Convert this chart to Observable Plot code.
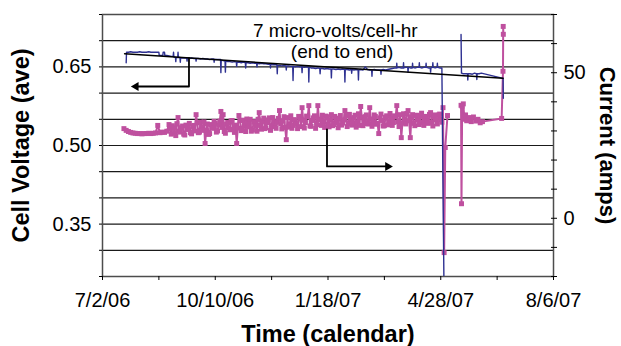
<!DOCTYPE html>
<html><head><meta charset="utf-8">
<script src="https://cdn.jsdelivr.net/npm/d3@7"></script>
<script src="https://cdn.jsdelivr.net/npm/@observablehq/plot@0.6"></script>
<style>body{margin:0;background:#fff} #chart svg{display:block}</style>
</head><body><div id="chart"></div>
<script>
// ---- data (days counted from 7/2/06) ----
const startDate = "2006-07-02";
const endDate = "2007-08-06";
const majorTickDates = ["2006-07-02","2006-10-10","2007-01-18","2007-04-28","2007-08-06"];
const minorTickDates = ["2006-08-21","2006-11-29","2007-03-09","2007-06-17"];
const voltTicks = [0.25,0.30,0.35,0.40,0.45,0.50,0.55,0.60,0.65,0.70,0.75];
const voltLabels = [0.35,0.50,0.65];
const ampTicks = [-20,-10,0,10,20,30,40,50,60,70];
const ampLabels = [0,50];

// cell voltage samples: [day, volts]
const voltSamples = [
 [21,0.658],[21.3,0.678],[23,0.678],[25,0.679],[27,0.678],[29,0.678],[31,0.678],[33,0.679],[35,0.678],[37,0.678],
 [39,0.678],[41,0.679],[43,0.678],[45,0.678],[47,0.678],[49,0.678],[50,0.678],[50.3,0.672],[52,0.672],[53.5,0.672],
 [53.8,0.678],[55,0.678],[55.3,0.672],[57,0.672],[59,0.671],[61,0.670],[62.7,0.670],[63,0.678],[63.3,0.669],
 [64.7,0.668],[65,0.660],[65.3,0.668],[66.7,0.668],[67,0.678],[67.3,0.668],[68.7,0.668],[69,0.659],[69.3,0.667],
 [71,0.667],[73,0.667],[74.7,0.667],[75,0.661],[75.3,0.667],[77,0.666],[79,0.667],[81,0.666],
 [82.7,0.666],[83,0.661],[83.3,0.666],[85,0.666],[87,0.665],[89,0.666],[91,0.665],[93,0.665],[95,0.664],[97,0.665],
 [98.7,0.665],[99,0.659],[99.3,0.664],[101,0.664],[103,0.664],[104.7,0.664],[105,0.639],[105.3,0.663],[107,0.662],
 [108.7,0.661],[109,0.640],[109.3,0.661],[111,0.660],[113,0.660],[115,0.659],[117,0.660],
 [118.7,0.659],[119,0.651],[119.3,0.659],[121,0.659],[123,0.658],[125,0.659],
 [126.7,0.658],[127,0.648],[127.3,0.658],[129,0.658],[131,0.657],[133,0.658],[135,0.657],
 [136.7,0.657],[137,0.650],[137.3,0.657],[139,0.656],[141,0.657],[143,0.656],[145,0.656],[147,0.655],
 [148.7,0.655],[149,0.648],[149.3,0.655],[151,0.654],[153,0.654],
 [154.7,0.654],[155,0.637],[155.3,0.653],[157,0.653],[159,0.652],[161,0.653],
 [162.7,0.652],[163,0.644],[163.3,0.652],[165,0.652],[167,0.651],
 [168.7,0.651],[169,0.624],[169.3,0.651],[171,0.650],[173,0.651],[175,0.650],
 [176.7,0.650],[177,0.639],[177.3,0.650],[179,0.649],[181,0.650],
 [182.7,0.649],[183,0.621],[183.3,0.649],[185,0.648],[187,0.648],[189,0.647],[191,0.648],
 [192.7,0.647],[193,0.637],[193.3,0.647],[195,0.647],[197,0.646],[199,0.647],[201,0.646],
 [202.7,0.646],[203,0.629],[203.3,0.646],[205,0.646],[207,0.645],[209,0.646],[211,0.645],[213,0.646],
 [214.7,0.645],[215,0.621],[215.3,0.645],[217,0.645],[219,0.644],
 [220.7,0.645],[221,0.638],[221.3,0.645],[223,0.644],[225,0.645],
 [226.7,0.644],[227,0.625],[227.3,0.644],[229,0.645],[231,0.644],[233,0.650],[235,0.645],[237,0.644],
 [238.7,0.644],[239,0.632],[239.3,0.644],[241,0.645],[243,0.644],[245,0.644],
 [246.7,0.644],[247,0.636],[247.3,0.644],[249,0.645],[251,0.644],[253,0.645],[255,0.646],[257,0.647],[259,0.648],
 [260.7,0.648],[261,0.657],[261.3,0.648],[263,0.649],[265,0.648],
 [266.7,0.648],[267,0.658],[267.3,0.648],[269,0.649],
 [270.7,0.649],[271,0.640],[271.3,0.649],[273,0.648],
 [274.7,0.648],[275,0.657],[275.3,0.649],[277,0.648],[279,0.649],
 [280.7,0.649],[281,0.658],[281.3,0.649],[283,0.648],[285,0.649],
 [286.7,0.649],[287,0.657],[287.3,0.649],[289,0.648],
 [290.7,0.648],[291,0.640],[291.3,0.648],
 [292.7,0.649],[293,0.658],[293.3,0.649],[295,0.648],
 [296.7,0.649],[297,0.657],[297.3,0.649],[299,0.648],[301,0.648],
 [303,0.20],[310,null],
 [318,0.712],[318.4,0.638],[320,0.637],[322,0.637],
 [323.7,0.637],[324,0.625],[324.3,0.637],[326,0.637],[328,0.636],[330,0.638],
 [331.7,0.637],[332,0.626],[332.3,0.637],[334,0.637],[336,0.638],
 [355.3,0.628],[355.5,0.590]
];

// current samples (odd days + tail): days and amps
const currentDay = [
 19,21,23,25,27,29,31,33,35,37,
 39,41,43,45,47,49,51,53,55,57,
 59,61,63,65,67,69,71,73,75,77,
 79,81,83,85,87,89,91,93,95,97,
 99,101,103,105,107,109,111,113,115,117,
 119,121,123,125,127,129,131,133,135,137,
 139,141,143,145,147,149,151,153,155,157,
 159,161,163,165,167,169,171,173,175,177,
 179,181,183,185,187,189,191,193,195,197,
 199,201,203,205,207,209,211,213,215,217,
 219,221,223,225,227,229,231,233,235,237,
 239,241,243,245,247,249,251,253,255,257,
 259,261,263,265,267,269,271,273,275,277,
 279,281,283,285,287,289,291,293,295,297,
 299,301,302,303,304,306,310,318,318.4,319,320,321,322,323,325,327,329,331,333,335,337,354,355.2,355.4,355.5
];
const currentAmps = [
 30.8,30.2,29.8,29.5,29.3,29.2,29.1,29.1,29.0,29.1,
 29.1,29.2,29.1,29.2,29.3,31.9,29.4,29.6,29.5,29.9,
 32.2,28.9,31.0,28.4,34.6,29.6,31.7,28.6,30.8,32.6,
 29.0,31.9,35.6,29.4,33.0,30.2,25.7,32.4,29.1,31.6,
 33.3,29.6,32.0,36.7,35.6,29.2,32.9,30.4,33.6,29.5,
 25.7,35.3,30.1,33.7,29.8,32.6,34.0,30.3,33.2,29.9,
 36.3,30.6,34.4,31.1,33.8,30.2,34.6,31.5,33.0,37.0,
 30.7,34.9,27.0,31.3,35.2,31.9,33.6,30.8,34.8,38.0,
 31.0,35.1,38.7,31.6,34.5,30.9,38.7,33.8,35.4,31.2,
 34.9,31.4,35.6,32.2,34.0,31.1,35.3,32.7,37.0,31.5,
 35.7,32.0,34.6,31.3,35.9,38.4,31.8,34.9,32.5,38.0,
 31.6,35.5,32.3,29.1,35.8,31.7,34.7,32.1,36.0,31.9,
 35.2,38.7,31.5,27.7,35.9,32.4,37.0,27.7,35.6,31.8,
 35.4,32.2,36.1,31.9,35.0,32.6,36.3,31.7,35.5,32.4,
 35.8,33.0,38.0,-11.8,24.3,35.3,null,38.8,5.0,38.5,39.3,34.0,35.5,33.5,34.6,33.2,34.8,33.4,34.0,32.8,33.2,34.3,50.5,65.9,63.2
];
// current samples on even days 60..300
const currentDayEven = [
 60,62,64,66,68,70,72,74,76,78,
 80,82,84,86,88,90,92,94,96,98,
 100,102,104,106,108,110,112,114,116,118,
 120,122,124,126,128,130,132,134,136,138,
 140,142,144,146,148,150,152,154,156,158,
 160,162,164,166,168,170,172,174,176,178,
 180,182,184,186,188,190,192,194,196,198,
 200,202,204,206,208,210,212,214,216,218,
 220,222,224,226,228,230,232,234,236,238,
 240,242,244,246,248,250,252,254,256,258,
 260,262,264,266,268,270,272,274,276,278,
 280,282,284,286,288,290,292,294,296,298,
 300
];
const currentAmpsEven = [
 30.6,31.8,29.3,32.5,30.0,31.1,28.9,32.0,30.5,29.4,
 31.5,30.0,32.8,29.6,31.3,33.1,30.3,28.8,32.2,30.9,
 32.6,30.0,33.4,31.2,29.8,32.3,31.0,33.5,30.6,32.0,
 31.0,33.6,30.5,32.2,34.1,31.4,29.9,33.0,31.6,34.0,
 31.9,33.4,30.8,32.9,34.5,31.7,33.2,30.9,34.3,32.5,
 33.5,31.2,34.6,32.0,30.9,33.9,32.4,35.0,31.5,33.7,
 32.9,34.8,31.7,33.6,35.2,32.2,34.0,31.9,33.3,35.1,
 32.4,33.9,31.8,35.0,32.9,34.4,32.0,33.8,35.3,32.6,
 34.2,32.8,35.4,33.0,31.9,34.7,33.3,35.5,32.4,34.1,
 33.2,35.0,32.6,34.5,33.6,31.8,35.2,33.4,34.3,32.9,
 34.9,33.1,35.6,32.7,34.2,36.0,33.5,34.8,32.6,35.3,
 33.7,35.2,32.9,34.6,33.4,35.7,33.0,34.9,33.8,35.4,
 33.9
];

// trend line "7 micro-volts/cell-hr (end to end)"
const trendDay = [19.6, 355.3];
const trendVolt = [0.675, 0.6285];
// annotation arrows (elbow paths, last point = arrow head)
const arrowVoltDay = [76.7, 76.7, 29.7];
const arrowVoltVal = [0.667, 0.6126, 0.6126];
const arrowAmpDay = [199.1, 199.1, 253];
const arrowAmpVal = [30.5, 17.8, 17.8];
const noteLines = ["7 micro-volts/cell-hr", "(end to end)"];
const noteDay = [206.5, 212.5];
const noteVolt = [0.7323, 0.6925];

// ---- helpers ----
const t0 = new Date(startDate + "T00:00:00Z");
const dayToDate = d => new Date(+t0 + d * 864e5);
const toV = d3.scaleLinear().domain([-20, 70]).range([0.25, 0.75]);
const iso = s => new Date(s + "T00:00:00Z");

const volt = voltSamples.map(([d, v]) => ({date: dayToDate(d), v}));
const currentRows = currentDay.map((d, i) => ({day: d, a: currentAmps[i]}))
  .concat(currentDayEven.map((d, i) => ({day: d, a: currentAmpsEven[i]})))
  .sort((p, q) => p.day - q.day);
const current = currentRows.map(r => ({date: dayToDate(r.day), v: r.a == null ? null : toV(r.a)}));
const trend = trendDay.map((d, i) => ({date: dayToDate(d), v: trendVolt[i]}));
const arrowV = arrowVoltDay.map((d, i) => ({date: dayToDate(d), v: arrowVoltVal[i]}));
const arrowA = arrowAmpDay.map((d, i) => ({date: dayToDate(d), v: toV(arrowAmpVal[i])}));
const notes = noteLines.map((t, i) => ({text: t, date: dayToDate(noteDay[i]), v: noteVolt[i]}));

const NAVY = "#2e3192", MAG = "#bf509f";
const FONT = "'Liberation Sans', Arial, Helvetica, sans-serif";

const chart = Plot.plot({
  width: 621, height: 346,
  marginLeft: 102, marginRight: 68, marginTop: 14, marginBottom: 70,
  x: {type: "utc", domain: [iso(startDate), iso(endDate)]},
  y: {domain: [0.25, 0.75]},
  style: {fontFamily: FONT, fontSize: "20px", color: "#000", background: "#fff"},
  marks: [
    Plot.ruleY(voltTicks.slice(1, -1), {stroke: "#1a1a1a", strokeWidth: 1.2}),
    Plot.frame({stroke: "#4d4d4d", strokeWidth: 1.5}),
    // left axis
    Plot.axisY(voltTicks, {anchor: "left", tickSize: 3, tickFormat: () => "", label: null}),
    Plot.axisY(voltLabels, {anchor: "left", tickSize: 0, tickPadding: 11, tickFormat: d3.format(".2f"), fontSize: 20, label: null}),
    // right axis (current)
    Plot.axisY(ampTicks.map(toV), {anchor: "right", tickSize: 6, dx: -3, tickFormat: () => "", label: null}),
    Plot.axisY(ampLabels.map(toV), {anchor: "right", tickSize: 0, tickPadding: 10, tickFormat: v => String(Math.round(toV.invert(v))), fontSize: 20, label: null}),
    // x axis
    Plot.axisX(majorTickDates.map(iso), {tickSize: 4, tickPadding: 12, tickFormat: d3.utcFormat("%-m/%-d/%y"), fontSize: 20, label: null}),
    Plot.axisX(minorTickDates.map(iso), {tickSize: 4, tickFormat: () => "", label: null}),
    // current series
    Plot.line(current, {x: "date", y: "v", stroke: MAG, strokeWidth: 2, clip: true}),
    Plot.dot(current, {x: "date", y: "v", symbol: "square", r: 2.8, fill: MAG, stroke: null, clip: true}),
    // voltage series
    Plot.line(volt, {x: "date", y: "v", stroke: NAVY, strokeWidth: 1.4, clip: true}),
    Plot.line(trend, {x: "date", y: "v", stroke: "#000", strokeWidth: 1.5}),
    // arrows
    Plot.line(arrowV, {x: "date", y: "v", stroke: "#000", strokeWidth: 1.8}),
    Plot.dot(arrowV.slice(-1), {x: "date", y: "v", symbol: "triangle", r: 3.3, rotate: -90, fill: "#000", stroke: null}),
    Plot.line(arrowA, {x: "date", y: "v", stroke: "#000", strokeWidth: 1.8}),
    Plot.dot(arrowA.slice(-1), {x: "date", y: "v", symbol: "triangle", r: 3.3, rotate: 90, fill: "#000", stroke: null}),
    // annotation
    Plot.text(notes, {x: "date", y: "v", text: "text", lineAnchor: "top", textAnchor: "middle", fontSize: 19, fill: "#000"}),
    // axis titles
    Plot.text(["Cell Voltage (ave)"], {text: d => d, frameAnchor: "left", dx: -90, rotate: -90, textAnchor: "middle", lineAnchor: "top", fontSize: 23.5, fontWeight: "bold", fill: "#000"}),
    Plot.text(["Current (amps)"], {text: d => d, frameAnchor: "right", dx: 62, rotate: 90, textAnchor: "middle", lineAnchor: "top", fontSize: 22, fontWeight: "bold", fill: "#000"}),
    Plot.text(["Time (calendar)"], {text: d => d, frameAnchor: "bottom", dy: 49, textAnchor: "middle", lineAnchor: "top", fontSize: 23.5, fontWeight: "bold", fill: "#000"})
  ]
});
document.getElementById("chart").appendChild(chart);
</script></body></html>
